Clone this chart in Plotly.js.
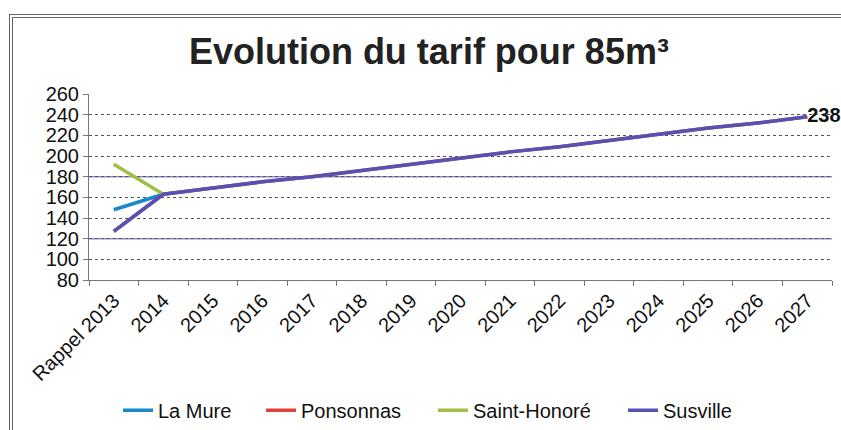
<!DOCTYPE html>
<html>
<head>
<meta charset="utf-8">
<script src="https://cdn.plot.ly/plotly-3.0.1.min.js"></script>
<style>
  html, body { margin: 0; padding: 0; background: #fff; }
  #wrap { position: relative; width: 841px; height: 430px; overflow: hidden; }
  #chart { position: absolute; left: 0; top: 0; width: 841px; height: 430px; }
  #frame { position: absolute; left: 9px; top: 14px; width: 900px; height: 500px;
           border: 4px double #666; box-sizing: border-box; pointer-events: none; }
</style>
</head>
<body>
<div id="wrap">
  <div id="chart"></div>
  <div id="frame"></div>
</div>
<script>
const categories = ["Rappel 2013", "2014", "2015", "2016", "2017", "2018", "2019", "2020",
                    "2021", "2022", "2023", "2024", "2025", "2026", "2027"];
const laMure      = [148, 163];
const ponsonnas   = [127, 163, 169, 175, 180, 186, 192, 198, 204, 209, 215, 221, 227, 232, 238];
const saintHonore = [192, 163];
const susville    = [127, 163, 169, 175, 180, 186, 192, 198, 204, 209, 215, 221, 227, 232, 238];
const yTicks = [80, 100, 120, 140, 160, 180, 200, 220, 240, 260];

const font = "'Liberation Sans', Arial, sans-serif";
const lastLabel = susville.map((v, i) => i === susville.length - 1 ? String(v) : "");

const traces = [
  { name: "La Mure", legend: "legend", x: categories.slice(0, laMure.length), y: laMure, mode: "lines",
    line: { color: "#1a86cc", width: 3.5 } },
  { name: "Ponsonnas", legend: "legend2", x: categories, y: ponsonnas, mode: "lines",
    line: { color: "#e0403a", width: 3.5 } },
  { name: "Saint-Honoré", legend: "legend3", x: categories.slice(0, saintHonore.length), y: saintHonore, mode: "lines",
    line: { color: "#9fbf45", width: 3.5 } },
  { name: "Susville", legend: "legend4", x: categories, y: susville, mode: "lines+text",
    text: lastLabel, textposition: "middle right",
    textfont: { family: font, size: 20, color: "#111", weight: "bold" },
    cliponaxis: false,
    line: { color: "#5552b5", width: 3.5 } }
];

function leg(x) {
  return { orientation: "h", x: x, xanchor: "left", y: -0.70, yanchor: "middle",
           font: { family: font, size: 20, color: "#111" }, bgcolor: "rgba(0,0,0,0)" };
}

const layout = {
  width: 841, height: 430,
  margin: { l: 89, r: 9, t: 94, b: 150, autoexpand: false },
  paper_bgcolor: "#fff", plot_bgcolor: "#fff",
  title: { text: "Evolution du tarif pour 85m³", x: 0.51, xanchor: "center", y: 0.88, yanchor: "middle",
           font: { family: font, size: 36, color: "#222", weight: "bold" } },
  xaxis: {
    type: "category", range: [-0.5, 14.5], tickson: "boundaries",
    ticks: "outside", ticklen: 5, tickcolor: "#777",
    showline: true, linecolor: "#777", linewidth: 1,
    showgrid: false, tickangle: -45, automargin: false,
    tickfont: { family: font, size: 20, color: "#111" }
  },
  yaxis: {
    range: [80, 260], tickvals: yTicks, ticks: "outside", ticklen: 5, tickcolor: "#777",
    showline: true, linecolor: "#777", linewidth: 1,
    showgrid: true, gridcolor: "#555", griddash: "dot", gridwidth: 1,
    zeroline: false, automargin: false,
    tickfont: { family: font, size: 20, color: "#111" }
  },
  shapes: [
    { type: "line", xref: "paper", yref: "y", x0: 0, x1: 1, y0: 120, y1: 120, layer: "below",
      line: { color: "#8a8ad8", width: 1.5 } },
    { type: "line", xref: "paper", yref: "y", x0: 0, x1: 1, y0: 180, y1: 180, layer: "below",
      line: { color: "#8a8ad8", width: 1.5 } }
  ],
  showlegend: true,
  legend: leg(0.039),
  legend2: leg(0.2315),
  legend3: leg(0.463),
  legend4: leg(0.7187)
};

Plotly.newPlot("chart", traces, layout, { displayModeBar: false, staticPlot: true });
</script>
</body>
</html>
